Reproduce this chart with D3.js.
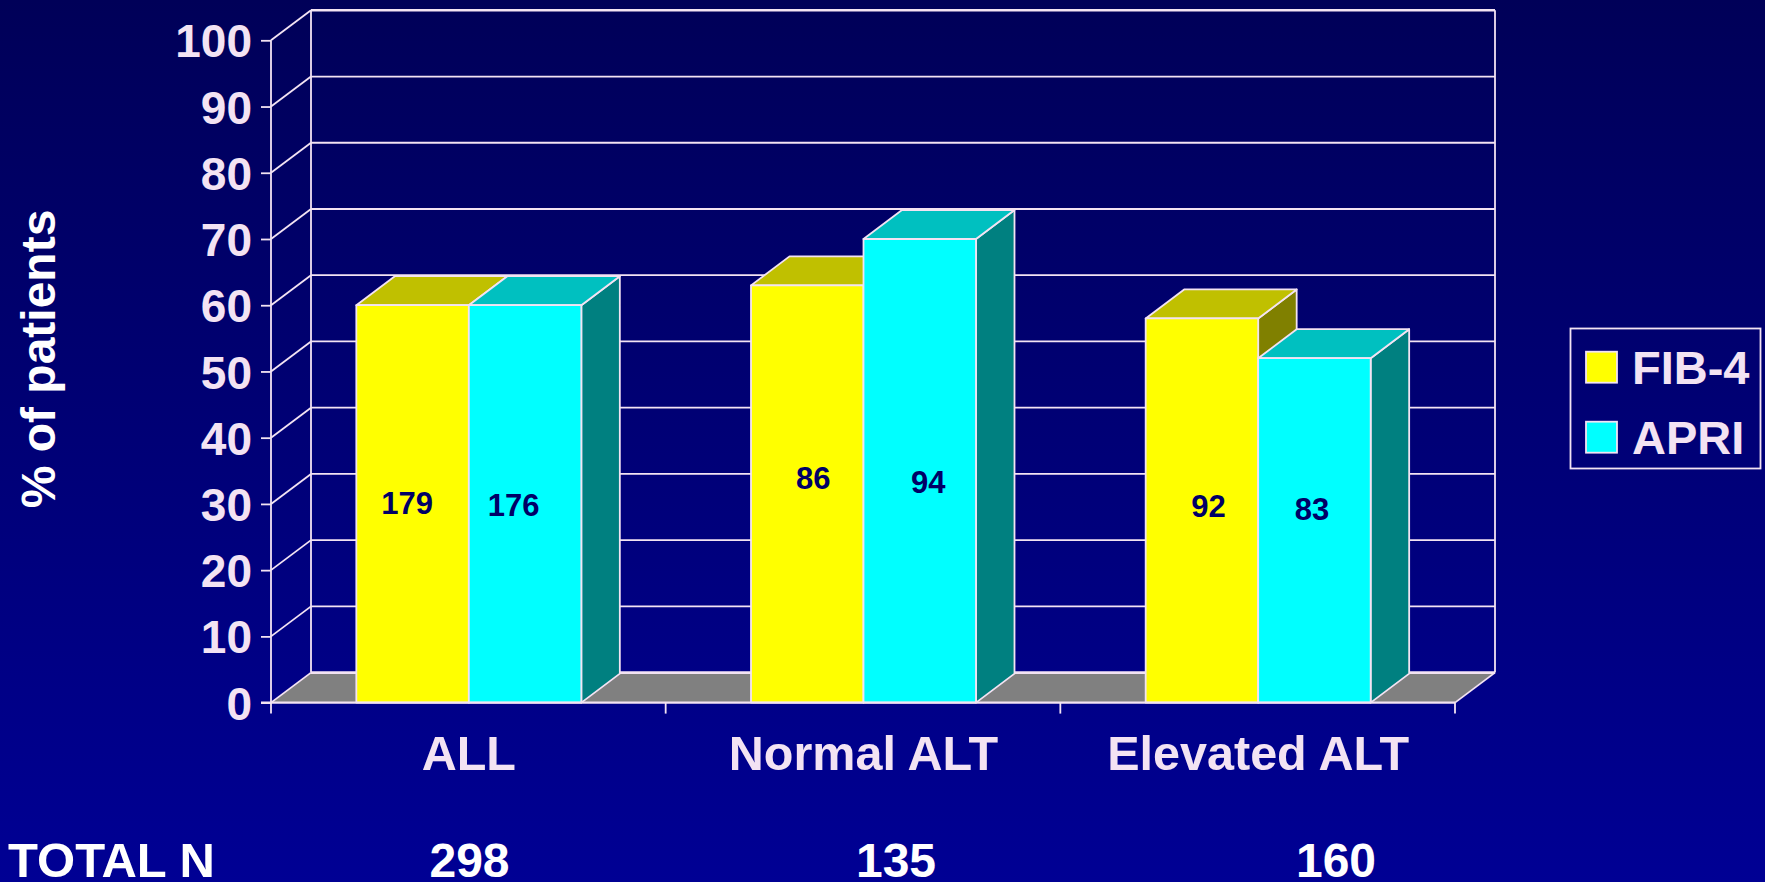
<!DOCTYPE html>
<html>
<head>
<meta charset="utf-8">
<title>FIB-4 and APRI by ALT group</title>
<script src="https://cdn.jsdelivr.net/npm/d3@7/dist/d3.min.js"></script>
<style>
  html, body { margin: 0; padding: 0; background: #000090; overflow: hidden; }
  svg { display: block; }
  text { font-family: "Liberation Sans", Arial, sans-serif; font-weight: bold; }
</style>
</head>
<body>
<svg id="chart" width="1765" height="882"></svg>
<script>
// Chart data
const categories = ["ALL", "Normal ALT", "Elevated ALT"];
const seriesNames = ["FIB-4", "APRI"];
const fib4Percent = [60, 63, 58];
const apriPercent = [60, 70, 52];
const fib4Counts = [179, 86, 92];
const apriCounts = [176, 94, 83];
const totalN = [298, 135, 160];
const yTicks = [0, 10, 20, 30, 40, 50, 60, 70, 80, 90, 100];

// Palette
const INK = "#f3e3f3";
const NAVY = "#000066";
const faces = {
  "FIB-4": { front: "#ffff00", top: "#c0c000", side: "#808000" },
  "APRI": { front: "#00ffff", top: "#00c0c0", side: "#008080" }
};

// Plot frame and the oblique offset of the back wall and of the bars
const plotLeft = 271, plotRight = 1455, plotBase = 702.6, plotTop = 40.3;
const depthX = 40, depthY = 30;
const barDepthX = 38.5, barDepthY = 29;

const svg = d3.select("#chart");

const defs = svg.append("defs");
const grad = defs.append("linearGradient")
  .attr("id", "bg").attr("x1", 0).attr("y1", 0).attr("x2", 0).attr("y2", 1);
grad.append("stop").attr("offset", "0%").attr("stop-color", "#000058");
grad.append("stop").attr("offset", "100%").attr("stop-color", "#000094");
svg.append("rect").attr("width", 1765).attr("height", 882).attr("fill", "url(#bg)");

const y = d3.scaleLinear().domain([0, 100]).range([plotBase, plotTop]);
const band = d3.scaleBand().domain(categories).range([plotLeft, plotRight]);
const barWidth = 112.5;
const groupInset = (band.bandwidth() - 2 * barWidth) / 2 + 0.5;
const inner = d3.scaleBand().domain(seriesNames)
  .range([groupInset, groupInset + 2 * barWidth]);

const poly = pts => pts.map(p => p.join(",")).join(" ");

// Floor
svg.append("polygon")
  .attr("points", poly([[plotLeft, plotBase], [plotLeft + depthX, plotBase - depthY],
    [plotRight + depthX, plotBase - depthY], [plotRight, plotBase]]))
  .attr("fill", "#808080");

// Back wall gridlines, running along the left wall to the front axis
const wall = svg.append("g").attr("fill", "none").attr("stroke", INK);
wall.selectAll("line.back").data(yTicks).join("line").attr("class", "back")
  .attr("x1", plotLeft + depthX).attr("x2", plotRight + depthX)
  .attr("y1", d => y(d) - depthY).attr("y2", d => y(d) - depthY)
  .attr("stroke-width", d => (d === 0 || d === 100) ? 2.6 : 1.8);
wall.selectAll("line.side").data(yTicks).join("line").attr("class", "side")
  .attr("x1", plotLeft).attr("x2", plotLeft + depthX)
  .attr("y1", d => y(d)).attr("y2", d => y(d) - depthY)
  .attr("stroke-width", 1.8);
wall.append("line")
  .attr("x1", plotLeft + depthX).attr("x2", plotLeft + depthX)
  .attr("y1", y(0) - depthY).attr("y2", y(100) - depthY).attr("stroke-width", 1.8);
wall.append("line")
  .attr("x1", plotRight + depthX).attr("x2", plotRight + depthX)
  .attr("y1", y(0) - depthY).attr("y2", y(100) - depthY).attr("stroke-width", 1.8);
wall.append("line")
  .attr("x1", plotRight).attr("x2", plotRight + depthX)
  .attr("y1", plotBase).attr("y2", plotBase - depthY).attr("stroke-width", 1.8);

// Bars, drawn left to right so each one overlaps the side of the previous
const rows = categories.flatMap((c, i) => [
  { category: c, series: "FIB-4", value: fib4Percent[i], count: fib4Counts[i] },
  { category: c, series: "APRI", value: apriPercent[i], count: apriCounts[i] }
]);
const bars = svg.append("g").selectAll("g").data(rows).join("g")
  .attr("stroke", INK).attr("stroke-width", 1.8).attr("stroke-linejoin", "round");
const x0 = d => band(d.category) + inner(d.series);
bars.append("polygon")
  .attr("fill", d => faces[d.series].side)
  .attr("points", d => {
    const x1 = x0(d) + barWidth;
    return poly([[x1, plotBase], [x1 + barDepthX, plotBase - barDepthY],
      [x1 + barDepthX, y(d.value) - barDepthY], [x1, y(d.value)]]);
  });
bars.append("polygon")
  .attr("fill", d => faces[d.series].top)
  .attr("points", d => {
    const x = x0(d), t = y(d.value);
    return poly([[x, t], [x + barDepthX, t - barDepthY],
      [x + barWidth + barDepthX, t - barDepthY], [x + barWidth, t]]);
  });
bars.append("rect")
  .attr("x", x0).attr("y", d => y(d.value))
  .attr("width", barWidth).attr("height", d => plotBase - y(d.value))
  .attr("fill", d => faces[d.series].front);

// Hand-placed count labels inside the bars (offsets from each bar's centre, and their baselines)
const labelNudgeX = [-5.5, -11.5, 6, 8.5, 6.5, -2.5];
const labelY = [514, 516, 489, 493, 517, 520];
svg.append("g").selectAll("text").data(rows).join("text")
  .attr("x", (d, i) => x0(d) + barWidth / 2 + labelNudgeX[i])
  .attr("y", (d, i) => labelY[i])
  .attr("text-anchor", "middle").attr("font-size", 31).attr("fill", NAVY)
  .text(d => d.count);

// Front axes
const yAxis = d3.axisLeft(y).tickValues(yTicks).tickSize(10).tickPadding(9);
const yG = svg.append("g").attr("transform", `translate(${plotLeft},0)`).call(yAxis);
yG.select(".domain").remove();
yG.selectAll(".tick line").attr("stroke", INK).attr("stroke-width", 1.8);
yG.selectAll(".tick text")
  .attr("fill", INK).attr("font-size", 46).attr("dy", "0.36em")
  .style("font-family", '"Liberation Sans", Arial, sans-serif').style("font-weight", "bold");

const axisLines = svg.append("g").attr("stroke", INK).attr("stroke-width", 1.8);
axisLines.append("line").attr("x1", plotLeft).attr("x2", plotLeft)
  .attr("y1", plotTop).attr("y2", plotBase + 11);
axisLines.append("line").attr("x1", plotLeft - 10).attr("x2", plotRight)
  .attr("y1", plotBase).attr("y2", plotBase).attr("stroke-width", 2.4);
axisLines.selectAll("line.cat").data(categories).join("line").attr("class", "cat")
  .attr("x1", d => band(d) + band.bandwidth()).attr("x2", d => band(d) + band.bandwidth())
  .attr("y1", plotBase).attr("y2", plotBase + 11);

// Category names and totals
const center = d => band(d) + band.bandwidth() / 2 + 0.5;
svg.append("g").selectAll("text").data(categories).join("text")
  .attr("x", center).attr("y", 769.5).attr("text-anchor", "middle")
  .attr("font-size", 48.5).attr("fill", INK).text(d => d);

const totalX = [469.5, 896, 1336];
svg.append("g").selectAll("text").data(totalN).join("text")
  .attr("x", (d, i) => totalX[i]).attr("y", 877).attr("text-anchor", "middle")
  .attr("font-size", 48).attr("fill", "#ffffff").text(d => d);
svg.append("text").attr("x", 8).attr("y", 877)
  .attr("font-size", 49).attr("fill", "#ffffff").text("TOTAL N");

// Vertical axis title
svg.append("text")
  .attr("transform", "translate(55,359) rotate(-90)")
  .attr("text-anchor", "middle").attr("font-size", 48).attr("fill", "#ffffff")
  .text("% of patients");

// Legend
const legend = svg.append("g");
legend.append("rect").attr("x", 1570.5).attr("y", 328.5)
  .attr("width", 190).attr("height", 140)
  .attr("fill", "none").attr("stroke", INK).attr("stroke-width", 1.8);
const swatchY = [351.7, 421.7];
const entries = legend.selectAll("g").data(seriesNames).join("g");
entries.append("rect").attr("x", 1586).attr("y", (d, i) => swatchY[i])
  .attr("width", 31).attr("height", 31)
  .attr("fill", d => faces[d].front).attr("stroke", INK).attr("stroke-width", 1.8);
entries.append("text").attr("x", 1632).attr("y", (d, i) => swatchY[i] + 32)
  .attr("font-size", 47).attr("fill", INK).text(d => d);
</script>
</body>
</html>
